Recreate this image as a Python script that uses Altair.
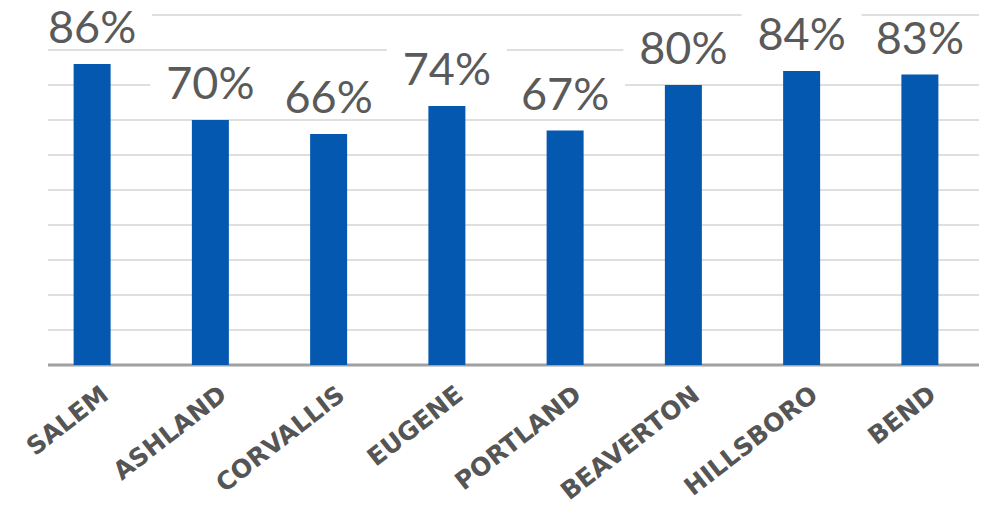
import altair as alt
import pandas as pd

cities = ["SALEM", "ASHLAND", "CORVALLIS", "EUGENE", "PORTLAND", "BEAVERTON", "HILLSBORO", "BEND"]
values = [0.86, 0.70, 0.66, 0.74, 0.67, 0.80, 0.84, 0.83]
labels = ["86%", "70%", "66%", "74%", "67%", "80%", "84%", "83%"]
grid_values = [0.1, 0.2, 0.3, 0.4, 0.5, 0.6, 0.7, 0.8, 0.9, 1.0]
baseline_values = [0.0]

df = pd.DataFrame({"city": cities, "value": values, "label": labels})
grid_df = pd.DataFrame({"t": grid_values})
base_df = pd.DataFrame({"t": baseline_values})

W, H = 946, 350
y_scale = alt.Scale(domain=[0, 1], nice=False, zero=True)

x_enc = alt.X(
    "city:N",
    sort=cities,
    scale=alt.Scale(paddingInner=0, paddingOuter=0),
    axis=alt.Axis(
        title=None,
        domain=False,
        ticks=False,
        labelAngle=-38,
        labelAlign="right",
        labelBaseline="middle",
        labelPadding=26,
        labelOffset=13,
        labelFont="DejaVu Sans",
        labelFontWeight="bold",
        labelFontSize=25,
        labelColor="#555555",
        labelLimit=300,
    ),
)

grid = alt.Chart(grid_df).mark_rule(color="#d4d4d4", strokeWidth=1.3).encode(
    y=alt.Y("t:Q", scale=y_scale, axis=None),
    x=alt.value(15),
    x2=alt.value(W),
)

baseline = alt.Chart(base_df).mark_rule(color="#a0a0a0", strokeWidth=3).encode(
    y=alt.Y("t:Q", scale=y_scale, axis=None),
    x=alt.value(15),
    x2=alt.value(W),
)

boxes = alt.Chart(df).mark_bar(color="white", size=120, yOffset=-15, y2Offset=-57).encode(
    x=x_enc,
    y=alt.Y("value:Q", scale=y_scale, axis=None),
    y2="value:Q",
)

bars = alt.Chart(df).mark_bar(color="#0558B0", size=37).encode(
    x=x_enc,
    y=alt.Y("value:Q", scale=y_scale, axis=None),
)

text = alt.Chart(df).mark_text(
    font="Lato", fontWeight=400, fontSize=45, color="#5a5a5a",
    dy=-21, baseline="alphabetic", align="center",
).encode(
    x=x_enc,
    y=alt.Y("value:Q", scale=y_scale, axis=None),
    text="label:N",
)

chart = alt.layer(grid, baseline, boxes, bars, text).properties(
    width=W,
    height=H,
    autosize=alt.AutoSizeParams(type="none"),
    padding={"left": 33, "top": 15, "right": 5, "bottom": 143},
    background="white",
).configure_view(stroke=None)

chart.save("out.html", embed_options={"renderer": "svg", "actions": False})
